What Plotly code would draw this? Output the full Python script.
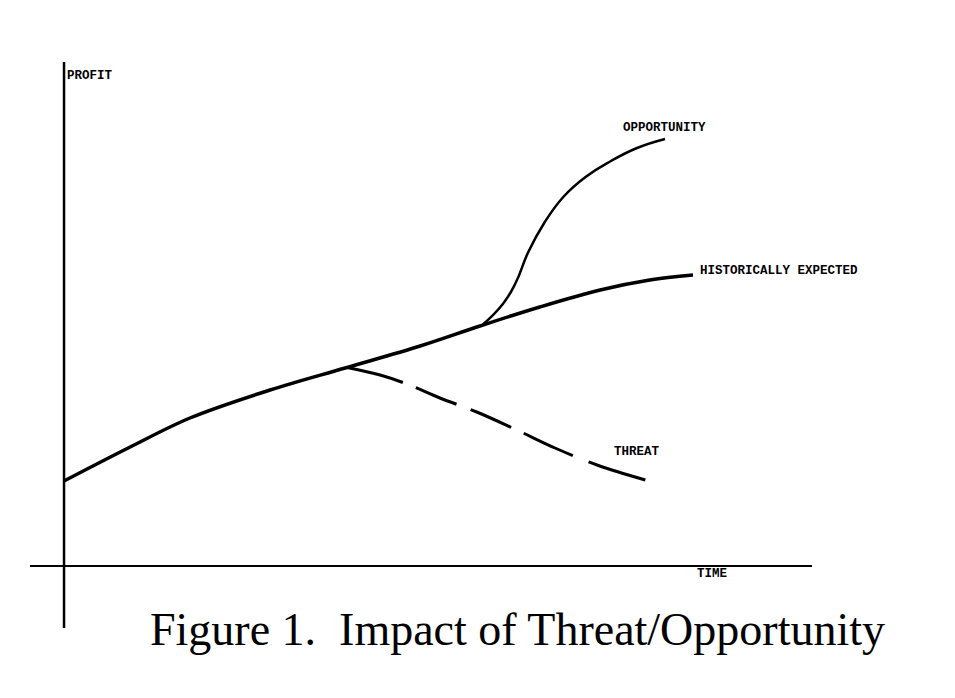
import plotly.graph_objects as go

# time / profit in arbitrary units (origin where the axes cross)
hist_t = [0.0, 1.04, 1.98, 3.24, 4.42, 5.60, 6.54, 7.48, 8.43, 9.21, 9.89]
hist_p = [1.70, 2.38, 2.96, 3.52, 3.96, 4.40, 4.80, 5.18, 5.52, 5.72, 5.82]

opp_t = [6.56, 6.90, 7.10, 7.30, 7.55, 7.85, 8.20, 8.60, 9.01, 9.45]
opp_p = [4.80, 5.24, 5.66, 6.28, 6.86, 7.38, 7.78, 8.10, 8.36, 8.54]

threat_t = [4.45, 4.97, 5.39, 5.91, 6.49, 7.12, 7.72, 8.38, 9.14]
threat_p = [3.97, 3.82, 3.64, 3.36, 3.08, 2.72, 2.36, 2.02, 1.72]

labels = ["PROFIT", "OPPORTUNITY", "HISTORICALLY EXPECTED", "THREAT", "TIME"]
label_t = [0.05, 8.79, 10.0, 8.65, 9.95]
label_p = [9.80, 8.76, 5.90, 2.28, -0.16]

caption = "Figure 1.  Impact of Threat/Opportunity"

fig = go.Figure()

fig.add_trace(go.Scatter(x=hist_t, y=hist_p, mode="lines",
                         line=dict(color="black", width=3.5, shape="spline")))
fig.add_trace(go.Scatter(x=opp_t, y=opp_p, mode="lines",
                         line=dict(color="black", width=2.5, shape="spline",
                                   smoothing=1.3)))
fig.add_trace(go.Scatter(x=threat_t, y=threat_p, mode="lines",
                         line=dict(color="black", width=3, shape="spline",
                                   dash="58px,14px,44px,15px,44px,14px,54px,17px,60px,200px")))

# axes drawn as lines crossing at the origin
fig.add_shape(type="line", x0=0, x1=0, y0=-1.24, y1=10.08,
              line=dict(color="black", width=2.5))
fig.add_shape(type="line", x0=-0.535, x1=11.76, y0=0, y1=0,
              line=dict(color="black", width=2))

for txt, t, p in zip(labels, label_t, label_p):
    fig.add_annotation(x=t, y=p, text="<b>" + txt + "</b>", showarrow=False,
                       xanchor="left", yanchor="middle", xshift=-2,
                       font=dict(family="Liberation Mono", size=12.5, color="black"))

fig.add_annotation(x=0.533, y=0.109, xref="paper", yref="paper", text=caption,
                   showarrow=False, xanchor="center", yanchor="middle",
                   font=dict(family="Liberation Serif", size=46, color="black"))

# page body adds an 8px offset, so ranges are shifted to compensate
fig.update_layout(
    width=955, height=698,
    margin=dict(l=0, r=0, t=0, b=0),
    showlegend=False,
    plot_bgcolor="white", paper_bgcolor="white",
    xaxis=dict(range=[-0.881, 14.135], visible=False),
    yaxis=dict(range=[-2.8, 11.16], visible=False),
)

fig.write_html("out.html")
